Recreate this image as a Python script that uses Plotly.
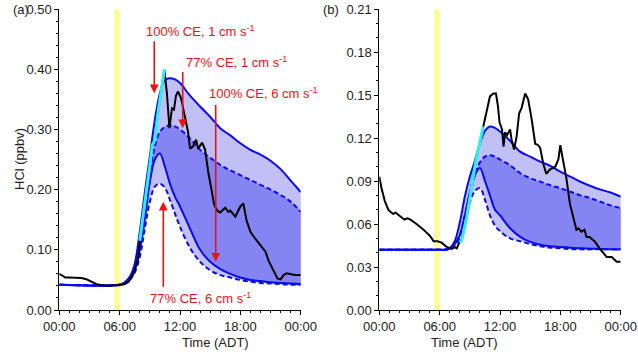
import plotly.graph_objects as go

# ---- data ----
hours = [0, 6.0, 6.5, 7.0, 7.5, 8.0, 8.5, 9.0, 9.5, 10.0, 10.5, 11.0, 11.5, 12.0,
         13.0, 14.0, 15.0, 16.0, 17.0, 18.0, 19.0, 20.0, 21.0, 22.0, 23.0, 24.0]

# panel (a) model runs
a_ce100_1cm = [0.042, 0.042, 0.046, 0.055, 0.077, 0.130, 0.195, 0.255, 0.316, 0.360, 0.382, 0.385, 0.383,
               0.377, 0.356, 0.338, 0.321, 0.302, 0.290, 0.277, 0.266, 0.258, 0.248, 0.234, 0.215, 0.196]
a_ce77_1cm = [0.042, 0.042, 0.045, 0.052, 0.070, 0.108, 0.165, 0.225, 0.272, 0.296, 0.304, 0.307, 0.305,
              0.300, 0.285, 0.266, 0.253, 0.241, 0.232, 0.224, 0.216, 0.208, 0.200, 0.191, 0.180, 0.163]
a_ce100_6cm = [0.042, 0.042, 0.045, 0.052, 0.068, 0.100, 0.150, 0.212, 0.250, 0.260, 0.238, 0.210, 0.188,
               0.172, 0.135, 0.100, 0.080, 0.068, 0.060, 0.054, 0.050, 0.048, 0.046, 0.045, 0.044, 0.043]
a_ce77_6cm = [0.042, 0.042, 0.044, 0.050, 0.062, 0.088, 0.135, 0.180, 0.205, 0.210, 0.203, 0.183, 0.160,
              0.138, 0.103, 0.080, 0.066, 0.058, 0.054, 0.050, 0.047, 0.045, 0.044, 0.043, 0.042, 0.042]

# panel (a) observations
a_obs_t = [0, 0.3, 0.6, 1.0, 1.7, 2.2, 2.7, 3.2, 3.7, 4.3, 5.0, 5.5, 6.0, 6.5, 6.9, 7.4, 7.85,
           8.0, 8.5, 9.0, 9.25, 9.5, 9.85, 10.2, 10.45, 10.7, 10.95, 11.2, 11.4, 11.6, 11.8,
           12.1, 12.4, 12.8, 13.0, 13.3, 13.6, 13.8, 14.2, 14.5, 14.8, 15.15, 15.4, 15.7, 16.0,
           16.5, 16.8, 17.0, 17.5, 18.0, 18.3, 18.6, 19.0, 19.5, 20.0, 20.5, 20.8, 21.1, 21.4,
           21.7, 22.0, 22.3, 22.6, 23.0, 23.4, 24.0]
a_obs_v = [0.060, 0.057, 0.054, 0.054, 0.053, 0.053, 0.051, 0.047, 0.043, 0.041, 0.040, 0.041, 0.041,
           0.043, 0.047, 0.061, 0.086, 0.115, 0.175, 0.240, 0.272, 0.282, 0.332, 0.371, 0.399, 0.360,
           0.302, 0.335, 0.333, 0.356, 0.363, 0.352, 0.330, 0.296, 0.268, 0.272, 0.283, 0.268, 0.278,
           0.266, 0.230, 0.194, 0.175, 0.165, 0.162, 0.170, 0.163, 0.165, 0.155, 0.172, 0.177, 0.150,
           0.130, 0.118, 0.108, 0.097, 0.082, 0.072, 0.062, 0.052, 0.051, 0.058, 0.061, 0.060, 0.058,
           0.058]
a_cyan_t = [8.0, 8.5, 9.0, 9.25, 9.5, 9.85, 10.2, 10.45]
a_cyan_v = [0.115, 0.175, 0.240, 0.274, 0.282, 0.332, 0.371, 0.400]

# panel (b) model runs
b_ce100_1cm = [0.042, 0.042, 0.042, 0.043, 0.048, 0.061, 0.079, 0.093, 0.104, 0.116, 0.125, 0.128, 0.127,
               0.1245, 0.118, 0.1105, 0.107, 0.1035, 0.1005, 0.0965, 0.093, 0.0895, 0.0865, 0.084, 0.082, 0.079]
b_ce77_1cm = [0.042, 0.042, 0.042, 0.043, 0.046, 0.052, 0.066, 0.080, 0.094, 0.103, 0.107, 0.108, 0.107,
              0.105, 0.101, 0.0955, 0.092, 0.0896, 0.087, 0.085, 0.0825, 0.080, 0.078, 0.0755, 0.073, 0.071]
b_ce100_6cm = [0.042, 0.042, 0.042, 0.043, 0.046, 0.052, 0.066, 0.082, 0.094, 0.099, 0.090, 0.080, 0.070,
               0.066, 0.057, 0.051, 0.0475, 0.0455, 0.0445, 0.044, 0.0435, 0.043, 0.0428, 0.0425, 0.0423, 0.0423]
b_ce77_6cm = [0.042, 0.042, 0.042, 0.043, 0.045, 0.050, 0.062, 0.075, 0.083, 0.085, 0.077, 0.066, 0.059,
              0.055, 0.050, 0.048, 0.046, 0.0445, 0.0435, 0.043, 0.0425, 0.0423, 0.0423, 0.0423, 0.0423, 0.0423]

b_obs_t = [0, 0.25, 0.55, 0.9, 1.1, 1.4, 1.6, 2.0, 2.5, 2.8, 3.1, 3.7, 4.1, 4.4, 4.7, 5.0, 5.4, 5.8,
           6.2, 6.7, 7.2, 7.5, 7.7, 7.95, 8.2, 8.7, 9.0, 9.3, 9.6, 9.9, 10.34, 10.6, 10.85, 11.0,
           11.35, 11.6, 11.8, 11.95, 12.2, 12.35, 12.5, 12.7, 13.0, 13.15, 13.4, 13.65, 13.9, 14.15,
           14.5, 14.8, 15.15, 15.5, 15.8, 16.0, 16.3, 16.6, 16.95, 17.5, 17.8, 18.0, 18.2, 18.6,
           18.95, 19.3, 19.6, 19.8, 20.1, 20.4, 20.6, 20.9, 21.4, 21.9, 22.3, 22.6, 23.1, 23.4,
           23.6, 24.0]
b_obs_v = [0.093, 0.084, 0.076, 0.070, 0.0685, 0.067, 0.068, 0.066, 0.063, 0.064, 0.063, 0.060, 0.058,
           0.056, 0.054, 0.052, 0.048, 0.048, 0.047, 0.044, 0.0426, 0.0438, 0.043, 0.047, 0.049, 0.065,
           0.079, 0.093, 0.104, 0.114, 0.128, 0.136, 0.142, 0.149, 0.151, 0.151, 0.142, 0.131, 0.126,
           0.114, 0.124, 0.122, 0.126, 0.119, 0.112, 0.121, 0.137, 0.141, 0.151, 0.147, 0.133, 0.116,
           0.115, 0.113, 0.102, 0.095, 0.098, 0.100, 0.105, 0.115, 0.107, 0.092, 0.074, 0.064, 0.056,
           0.057, 0.0547, 0.056, 0.051, 0.051, 0.048, 0.043, 0.040, 0.037, 0.037, 0.035, 0.0337, 0.0337]
b_cyan_t = [8.0, 8.2, 8.7, 9.0, 9.3, 9.6, 9.9, 10.34]
b_cyan_v = [0.047, 0.049, 0.065, 0.079, 0.093, 0.104, 0.114, 0.128]

time_ticks = [0, 6, 12, 18, 24]
time_labels = ["00:00", "06:00", "12:00", "18:00", "00:00"]
sunrise = [5.5, 6.0]

FONT = "Liberation Sans, Arial, sans-serif"
BLUE = "#0a0aee"
LIGHT = "rgb(192,192,246)"
DARK = "rgb(132,132,242)"
CYAN = "#2ef0f0"
RED = "#ee1111"

fig = go.Figure()


def add_panel(xa, ya, up1, dn1, up6, dn6, obs_t, obs_v, cy_t, cy_v):
    # envelope fills
    fig.add_trace(go.Scatter(x=hours + hours[::-1], y=up1 + dn6[::-1], fill="toself",
                             fillcolor=LIGHT, line=dict(width=0, shape="spline"), mode="lines",
                             xaxis=xa, yaxis=ya, hoverinfo="skip"))
    fig.add_trace(go.Scatter(x=hours + hours[::-1], y=dn1 + up6[::-1], fill="toself",
                             fillcolor=DARK, line=dict(width=0, shape="spline"), mode="lines",
                             xaxis=xa, yaxis=ya, hoverinfo="skip"))
    for vals, dash in [(up1, "solid"), (dn1, "5px,3px"), (up6, "solid"), (dn6, "5px,3px")]:
        fig.add_trace(go.Scatter(x=hours, y=vals, mode="lines",
                                 line=dict(color=BLUE, width=2, dash=dash, shape="spline"),
                                 xaxis=xa, yaxis=ya))
    fig.add_trace(go.Scatter(x=obs_t, y=obs_v, mode="lines", line=dict(color="black", width=2),
                             xaxis=xa, yaxis=ya))
    fig.add_trace(go.Scatter(x=cy_t, y=cy_v, mode="lines", line=dict(color=CYAN, width=3),
                             xaxis=xa, yaxis=ya))


add_panel("x", "y", a_ce100_1cm, a_ce77_1cm, a_ce100_6cm, a_ce77_6cm,
          a_obs_t, a_obs_v, a_cyan_t, a_cyan_v)
add_panel("x2", "y2", b_ce100_1cm, b_ce77_1cm, b_ce100_6cm, b_ce77_6cm,
          b_obs_t, b_obs_v, b_cyan_t, b_cyan_v)

for xr, yr in [("x", "y"), ("x2", "y2")]:
    fig.add_shape(type="rect", xref=xr, yref=yr + " domain", x0=sunrise[0], x1=sunrise[1],
                  y0=0, y1=1, fillcolor="#ffff88", line_width=0, layer="below")

# red arrows in panel (a): (x, tip, tail)
arrows = [(9.44, 0.360, 0.449), (12.27, 0.302, 0.398), (15.55, 0.080, 0.343), (10.34, 0.180, 0.036)]
for x, tip, tail in arrows:
    fig.add_annotation(x=x, y=tip, ax=x, ay=tail, xref="x", yref="y", axref="x", ayref="y",
                       text="", showarrow=True, arrowhead=2, arrowsize=1.1, arrowwidth=1.6,
                       arrowcolor=RED)

labels = [("100% CE, 1 cm s<sup>-1</sup>", 13.99, 0.463),
          ("77% CE, 1 cm s<sup>-1</sup>", 17.66, 0.412),
          ("100% CE, 6 cm s<sup>-1</sup>", 20.3, 0.360),
          ("77% CE, 6 cm s<sup>-1</sup>", 14.08, 0.020)]
for txt, x, y in labels:
    fig.add_annotation(x=x, y=y, xref="x", yref="y", text=txt, showarrow=False,
                       font=dict(family=FONT, size=13, color=RED))

for txt, x in [("Time (ADT)", 180 / 638), ("Time (ADT)", 500 / 638)]:
    fig.add_annotation(x=x, y=-0.109, xref="paper", yref="paper", text=txt, showarrow=False,
                       font=dict(family=FONT, size=13, color="#222"), yanchor="middle")
fig.add_annotation(x=10 / 638, y=0.5, xref="paper", yref="paper", text="HCl (ppbv)", textangle=-90,
                   showarrow=False, font=dict(family=FONT, size=13, color="#222"))
fig.add_annotation(x=11 / 638, y=0.997, xref="paper", yref="paper", text="(a)", showarrow=False,
                   font=dict(family=FONT, size=13, color="#222"), yanchor="middle")
fig.add_annotation(x=331 / 638, y=0.997, xref="paper", yref="paper", text="(b)", showarrow=False,
                   font=dict(family=FONT, size=13, color="#222"), yanchor="middle")

xaxis_common = dict(range=[0, 24], tickvals=time_ticks, ticktext=time_labels, showgrid=False,
                    zeroline=False, showline=True, linecolor="black", linewidth=1, ticks="outside",
                    ticklen=4, tickcolor="black", minor=dict(dtick=1, ticks="outside", ticklen=2,
                                                             tickcolor="black"),
                    tickfont=dict(family=FONT, size=13, color="#222"), automargin=False)
yaxis_common = dict(showgrid=False, zeroline=False, showline=True, linecolor="black", linewidth=1,
                    ticks="outside", ticklen=4, tickcolor="black", tickformat=".2f",
                    tickfont=dict(family=FONT, size=13, color="#222"), automargin=False)

fig.update_layout(
    width=638, height=352,
    margin=dict(l=0, r=0, t=9, b=42),
    plot_bgcolor="white", paper_bgcolor="white",
    showlegend=False,
    xaxis=dict(domain=[59.3 / 638, 300.7 / 638], anchor="y", **xaxis_common),
    xaxis2=dict(domain=[379.3 / 638, 620.7 / 638], anchor="y2", **xaxis_common),
    yaxis=dict(range=[0, 0.5], dtick=0.1, anchor="x",
               minor=dict(dtick=0.02, ticks="outside", ticklen=2, tickcolor="black"), **yaxis_common),
    yaxis2=dict(range=[0, 0.21], dtick=0.03, anchor="x2",
                minor=dict(dtick=0.01, ticks="outside", ticklen=2, tickcolor="black"), **yaxis_common),
)

# the page's default 8px body margin would shift the whole figure
fig.write_html("out.html", config={"displayModeBar": False},
               post_script="document.body.style.margin='0';")
